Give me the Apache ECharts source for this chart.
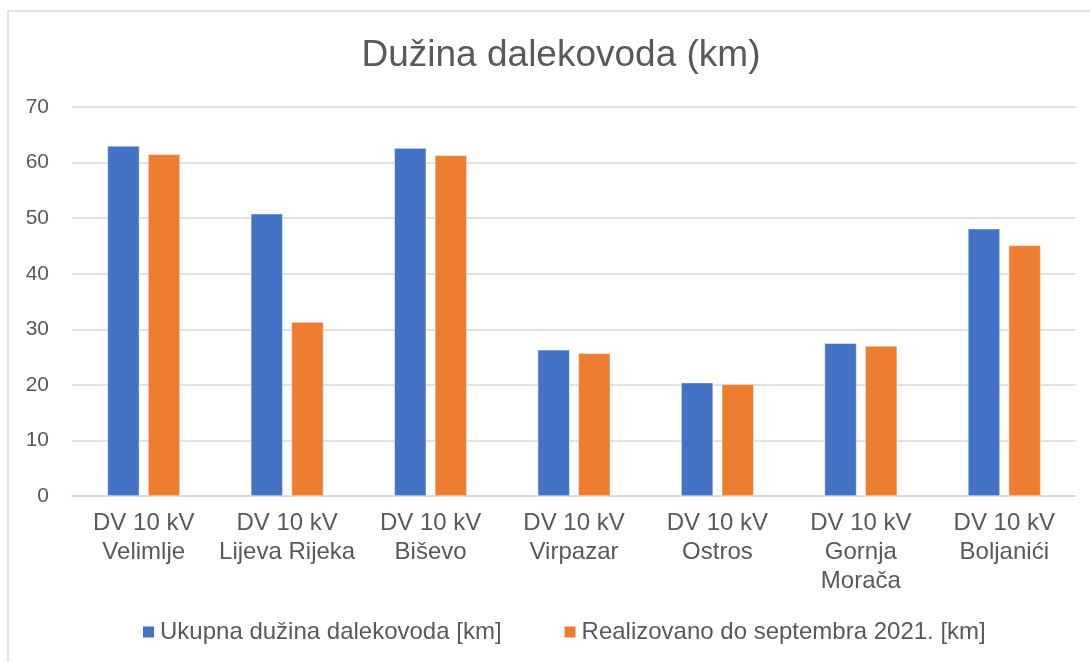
<!DOCTYPE html>
<html>
<head>
<meta charset="utf-8">
<script src="https://cdn.jsdelivr.net/npm/echarts@6/dist/echarts.min.js"></script>
<style>
  html, body { margin: 0; padding: 0; background: #fff; }
  #main { width: 1090px; height: 662px; }
</style>
</head>
<body>
<div id="main"></div>
<script>
var categories = [
    'DV 10 kV\nVelimlje',
    'DV 10 kV\nLijeva Rijeka',
    'DV 10 kV\nBiševo',
    'DV 10 kV\nVirpazar',
    'DV 10 kV\nOstros',
    'DV 10 kV\nGornja\nMorača',
    'DV 10 kV\nBoljanići'
]
var seriesNames = ['Ukupna dužina dalekovoda [km]', 'Realizovano do septembra 2021. [km]']
var ukupno = [63.0, 50.8, 62.6, 26.3, 20.4, 27.5, 48.1]
var realizovano = [61.5, 31.3, 61.3, 25.7, 20.1, 27.0, 45.1]

var font = '"Liberation Sans", Arial, sans-serif'
var textColor = '#595959'

var myChart = echarts.init(document.getElementById('main'))
var option = {
    backgroundColor: '#fff',
    textStyle: { fontFamily: font },
    graphic: [
        {
            type: 'rect',
            shape: { x: 8, y: 11, width: 1100, height: 700 },
            style: { fill: 'none', stroke: '#D9D9D9', lineWidth: 1.5 },
            silent: true
        }
    ],
    title: {
        text: 'Dužina dalekovoda (km)',
        left: 556,
        top: 32,
        textAlign: 'center',
        textStyle: { fontFamily: font, fontSize: 37, fontWeight: 'normal', color: textColor }
    },
    legend: {
        data: seriesNames,
        top: 615,
        left: 136,
        icon: 'rect',
        itemWidth: 13,
        itemHeight: 13,
        itemGap: 61,
        textStyle: { fontFamily: font, fontSize: 24, color: textColor }
    },
    grid: {
        left: 72,
        right: 14,
        top: 107,
        bottom: 166,
        containLabel: false
    },
    xAxis: {
        type: 'category',
        data: categories,
        axisTick: { show: false },
        axisLine: { lineStyle: { color: '#D9D9D9', width: 1.5 } },
        axisLabel: {
            interval: 0,
            margin: 13,
            fontFamily: font,
            fontSize: 24,
            lineHeight: 29,
            color: textColor
        }
    },
    yAxis: {
        type: 'value',
        min: 0,
        max: 70,
        interval: 10,
        axisLine: { show: false },
        axisTick: { show: false },
        axisLabel: { margin: 23, fontFamily: font, fontSize: 21, color: textColor },
        splitLine: { lineStyle: { color: '#D9D9D9', width: 1.5 } }
    },
    series: [
        {
            name: seriesNames[0],
            type: 'bar',
            data: ukupno,
            barWidth: 32,
            barGap: '27%',
            itemStyle: { color: '#4472C4', borderColor: '#fff', borderWidth: 0.5 }
        },
        {
            name: seriesNames[1],
            type: 'bar',
            data: realizovano,
            barWidth: 32,
            itemStyle: { color: '#ED7D31', borderColor: '#fff', borderWidth: 0.5 }
        }
    ]
}
myChart.setOption(option)
</script>
</body>
</html>
